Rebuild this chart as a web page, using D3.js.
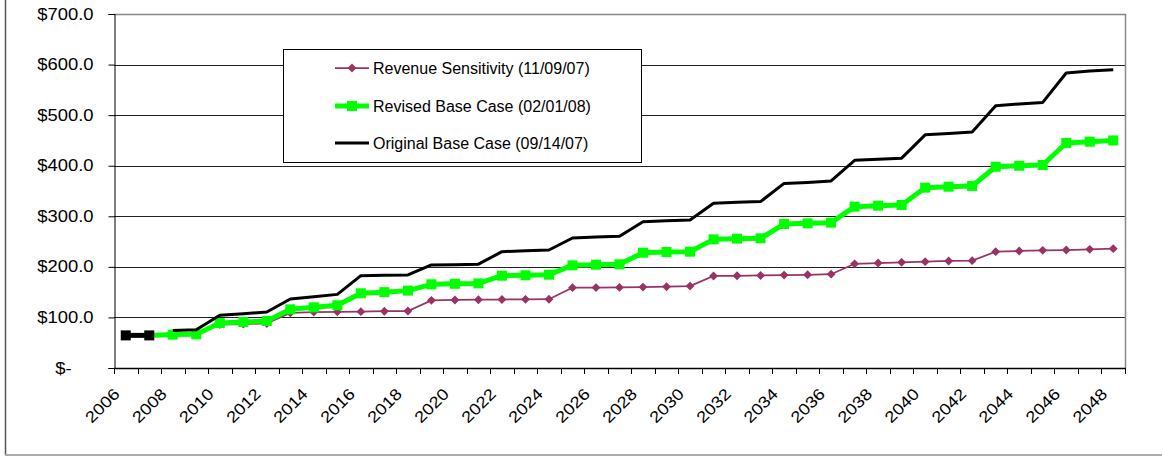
<!DOCTYPE html>
<html>
<head>
<meta charset="utf-8">
<script src="https://cdn.jsdelivr.net/npm/d3@7"></script>
<style>
  html, body { margin: 0; padding: 0; background: #fff; }
  svg { display: block; font-family: Arial, "Liberation Sans", sans-serif; }
</style>
</head>
<body>
<svg id="chart" width="1162" height="456"></svg>
<script>
// ---- data ----
const years = [2006, 2007, 2008, 2009, 2010, 2011, 2012, 2013, 2014, 2015, 2016, 2017, 2018, 2019, 2020,
  2021, 2022, 2023, 2024, 2025, 2026, 2027, 2028, 2029, 2030, 2031, 2032, 2033, 2034, 2035, 2036,
  2037, 2038, 2039, 2040, 2041, 2042, 2043, 2044, 2045, 2046, 2047, 2048];
const yTickValues = [0, 100, 200, 300, 400, 500, 600, 700];
const xTickLabels = [2006, 2008, 2010, 2012, 2014, 2016, 2018, 2020, 2022, 2024, 2026, 2028, 2030,
  2032, 2034, 2036, 2038, 2040, 2042, 2044, 2046, 2048];

const seriesNames = ["Revenue Sensitivity (11/09/07)", "Revised Base Case (02/01/08)", "Original Base Case (09/14/07)"];

// Revenue Sensitivity (11/09/07): 2008..2048
const revenueSensitivity = [66, 66.5, 86, 87, 88, 109, 110.5, 111, 111.4, 112.3, 112.7, 133.8, 134.5, 135,
  135.4, 135.7, 136, 158.8, 159, 159.4, 160, 160.7, 162, 182, 182.4, 183, 183.7, 184.3, 185.5,
  206, 207.6, 209, 210.3, 211.6, 212.3, 230, 231.4, 232.7, 233.3, 234.6, 236];
// Revised Base Case (02/01/08): 2006..2048 (first two points drawn in black)
const revisedBaseCase = [64.5, 64.5, 66, 66.5, 89, 91, 93, 116, 120, 124, 147.7, 150, 153, 165.5, 166.5,
  167.3, 182.5, 183.3, 184.5, 203, 204.3, 205, 228, 229.4, 230, 254.4, 255.8, 256.4, 284.7, 286,
  287.4, 319, 321, 322.3, 356.6, 358.5, 360, 398, 400, 401.4, 445, 447.5, 450];
// Original Base Case (09/14/07): 2008..2048
const originalBaseCase = [74, 75.5, 104.5, 107.5, 110.7, 136.4, 141, 145.6, 182.6, 183.3, 184, 203.7, 204.3,
  205.3, 230, 232, 233.3, 257, 259, 260.4, 289.3, 291.3, 292.7, 325.6, 327.6, 329, 365, 367, 369.8,
  410.6, 413, 415, 461, 463.9, 466.7, 518.7, 522, 525.2, 583.3, 587.3, 589.9];

// ---- layout ----
const svg = d3.select("#chart");
const W = 1162, H = 456;
const plot = { left: 114, right: 1125, top: 14, bottom: 368 };
const stretch = 1.15;

svg.append("rect").attr("width", W).attr("height", H).attr("fill", "#fff");

// outer chart-area border (left & bottom visible)
svg.append("line").attr("x1", 5.5).attr("x2", 5.5).attr("y1", 0).attr("y2", 455)
  .attr("stroke", "#555").attr("stroke-width", 1.5);
svg.append("line").attr("x1", 5).attr("x2", W).attr("y1", 455).attr("y2", 455)
  .attr("stroke", "#aaa").attr("stroke-width", 2);

const x = d3.scaleBand().domain(years).range([plot.left, plot.right]).paddingInner(0).paddingOuter(0);
const cx = d => x(d) + x.bandwidth() / 2;
const y = d3.scaleLinear().domain([0, 700]).range([plot.bottom, plot.top]);

// gridlines
svg.append("g").selectAll("line").data(yTickValues.filter(v => v > 0 && v < 700)).join("line")
  .attr("x1", plot.left).attr("x2", plot.right)
  .attr("y1", d => Math.round(y(d)) + 0.5).attr("y2", d => Math.round(y(d)) + 0.5)
  .attr("stroke", "#222").attr("stroke-width", 1);

// plot-area border top and right (gray)
svg.append("path")
  .attr("d", `M${plot.left},${plot.top + 0.5}H${plot.right + 0.5}V${plot.bottom}`)
  .attr("fill", "none").attr("stroke", "#888").attr("stroke-width", 1.5);

// y axis
const yAxis = d3.axisLeft(y).tickValues(yTickValues).tickSize(6).tickPadding(15)
  .tickFormat(d => d === 0 ? "$-" : "$" + d3.format(".1f")(d));
const gy = svg.append("g").attr("transform", `translate(${plot.left + 0.5},0)`).call(yAxis);
gy.select(".domain").attr("stroke", "#000").attr("stroke-width", 1);
gy.selectAll(".tick line").attr("stroke", "#000");
gy.selectAll(".tick text").attr("font-size", 16).attr("fill", "#000")
  .attr("font-family", "Arial, 'Liberation Sans', sans-serif")
  .attr("transform", `scale(${stretch},1)`)
  .attr("dx", d => d === 0 ? -19 : 0);
gy.selectAll(".tick text").each(function () {
  const t = d3.select(this);
  t.attr("x", +t.attr("x") / stretch);
});

// x axis line and ticks at category boundaries
svg.append("line").attr("x1", plot.left).attr("x2", plot.right + 0.5)
  .attr("y1", plot.bottom + 0.5).attr("y2", plot.bottom + 0.5).attr("stroke", "#000").attr("stroke-width", 1.5);
const boundaries = years.map(d => x(d)).concat([plot.right]);
svg.append("g").selectAll("line").data(boundaries).join("line")
  .attr("x1", d => Math.round(d) + 0.5).attr("x2", d => Math.round(d) + 0.5)
  .attr("y1", plot.bottom).attr("y2", plot.bottom + 6)
  .attr("stroke", "#000").attr("stroke-width", 1);

svg.append("g").selectAll("text").data(xTickLabels).join("text")
  .attr("transform", d => `translate(${cx(d) - 5},${plot.bottom + 27}) rotate(-45) scale(${stretch},1)`)
  .attr("text-anchor", "end")
  .attr("font-size", 16).attr("fill", "#000")
  .text(d => d);

// ---- series ----
const line = d3.line().x(d => cx(d.year)).y(d => y(d.value));
const revData = revenueSensitivity.map((v, i) => ({ year: years[i + 2], value: v }));
const revisedData = revisedBaseCase.map((v, i) => ({ year: years[i], value: v }));
const origData = originalBaseCase.map((v, i) => ({ year: years[i + 2], value: v }));

const purple = "#993366", green = "#00ff00";

// Revenue Sensitivity
svg.append("path").datum(revData).attr("d", line)
  .attr("fill", "none").attr("stroke", purple).attr("stroke-width", 1.75);
svg.append("g").selectAll("path").data(revData).join("path")
  .attr("d", d3.symbol(d3.symbolDiamond2, 50))
  .attr("transform", d => `translate(${cx(d.year)},${y(d.value)})`)
  .attr("fill", purple);

// Revised Base Case
svg.append("path").datum(revisedData.slice(1)).attr("d", line)
  .attr("fill", "none").attr("stroke", green).attr("stroke-width", 5).attr("stroke-linejoin", "round");
svg.append("path").datum(revisedData.slice(0, 2)).attr("d", line)
  .attr("fill", "none").attr("stroke", "#000").attr("stroke-width", 5);
svg.append("g").selectAll("rect").data(revisedData).join("rect")
  .attr("x", d => cx(d.year) - 5).attr("y", d => y(d.value) - 5)
  .attr("width", 10).attr("height", 10)
  .attr("fill", (d, i) => i < 2 ? "#000" : green);

// Original Base Case
svg.append("path").datum(origData).attr("d", line)
  .attr("fill", "none").attr("stroke", "#000").attr("stroke-width", 3).attr("stroke-linejoin", "round");

// ---- legend ----
const lg = svg.append("g");
lg.append("rect").attr("x", 283.5).attr("y", 49.5).attr("width", 358).attr("height", 113)
  .attr("fill", "#fff").attr("stroke", "#000").attr("stroke-width", 1);
const rows = [68, 106, 143];
const lx1 = 335, lx2 = 369;
lg.append("line").attr("x1", lx1).attr("x2", lx2).attr("y1", rows[0]).attr("y2", rows[0])
  .attr("stroke", purple).attr("stroke-width", 1.75);
lg.append("path").attr("d", d3.symbol(d3.symbolDiamond2, 50))
  .attr("transform", `translate(${(lx1 + lx2) / 2},${rows[0]})`).attr("fill", purple);
lg.append("line").attr("x1", lx1).attr("x2", lx2).attr("y1", rows[1]).attr("y2", rows[1])
  .attr("stroke", green).attr("stroke-width", 5);
lg.append("rect").attr("x", (lx1 + lx2) / 2 - 5).attr("y", rows[1] - 5).attr("width", 10).attr("height", 10)
  .attr("fill", green);
lg.append("line").attr("x1", lx1).attr("x2", lx2).attr("y1", rows[2]).attr("y2", rows[2])
  .attr("stroke", "#000").attr("stroke-width", 3);

lg.selectAll("text.lbl").data(seriesNames).join("text").attr("class", "lbl")
  .attr("x", 373).attr("y", (d, i) => rows[i]).attr("dy", "0.36em")
  .attr("font-size", 16).attr("fill", "#000").text(d => d);
</script>
</body>
</html>
